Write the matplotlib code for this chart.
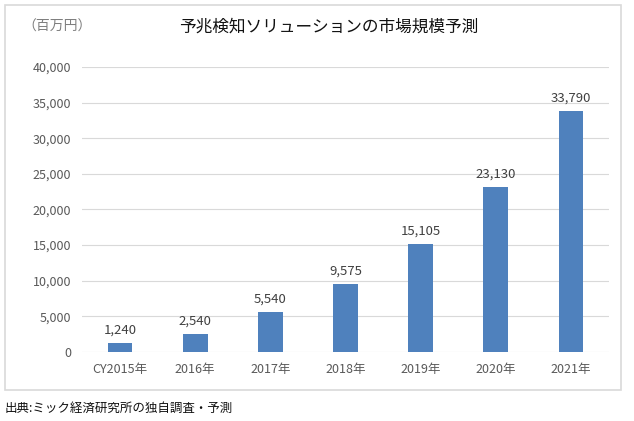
import matplotlib
matplotlib.use("Agg")
import matplotlib.pyplot as plt
from matplotlib.patches import Rectangle
from matplotlib.ticker import FuncFormatter

plt.rcParams['font.family'] = ['Noto Sans CJK JP', 'DejaVu Sans']

# Data
years = ['CY2015年', '2016年', '2017年', '2018年', '2019年', '2020年', '2021年']
market_size = [1240, 2540, 5540, 9575, 15105, 23130, 33790]

fig = plt.figure(figsize=(6.34, 4.21), dpi=100)
ax = fig.add_axes([0.130, 0.164, 0.830, 0.677])

# chart frame
fig.patches.append(Rectangle((5 / 634, 1 - 390 / 421), 616 / 634, 385 / 421,
                             transform=fig.transFigure, fill=False,
                             edgecolor='#D9D9D9', linewidth=1.2))

x = range(len(years))
bars = ax.bar(x, market_size, width=0.33, color='#4F81BD', zorder=3)

for xi, v in zip(x, market_size):
    ax.text(xi, v + 900, f'{v:,}', ha='center', va='bottom',
            fontsize=9.5, color='#404040')

ax.set_ylim(0, 40000)
ax.set_xlim(-0.5, 6.5)
ax.set_yticks(range(0, 40001, 5000))
ax.yaxis.set_major_formatter(FuncFormatter(lambda v, p: f'{int(v):,}'))
ax.set_xticks(list(x))
ax.set_xticklabels(years)
ax.grid(axis='y', color='#D9D9D9', linewidth=0.8, zorder=0)
for s in ax.spines.values():
    s.set_visible(False)
ax.tick_params(length=0, labelsize=9, labelcolor='#595959', pad=8)

fig.text(0.518, 1 - 27 / 421, '予兆検知ソリューションの市場規模予測', ha='center', va='center',
         fontsize=12, color='#111111')
fig.text(22 / 634, 1 - 27 / 421, '（百万円）', ha='left', va='center',
         fontsize=10, color='#7F7F7F')
fig.text(5 / 634, 1 - 408 / 421, '出典:ミック経済研究所の独自調査・予測', ha='left', va='center',
         fontsize=9, color='#111111')

fig.savefig('out.png', dpi=100)
